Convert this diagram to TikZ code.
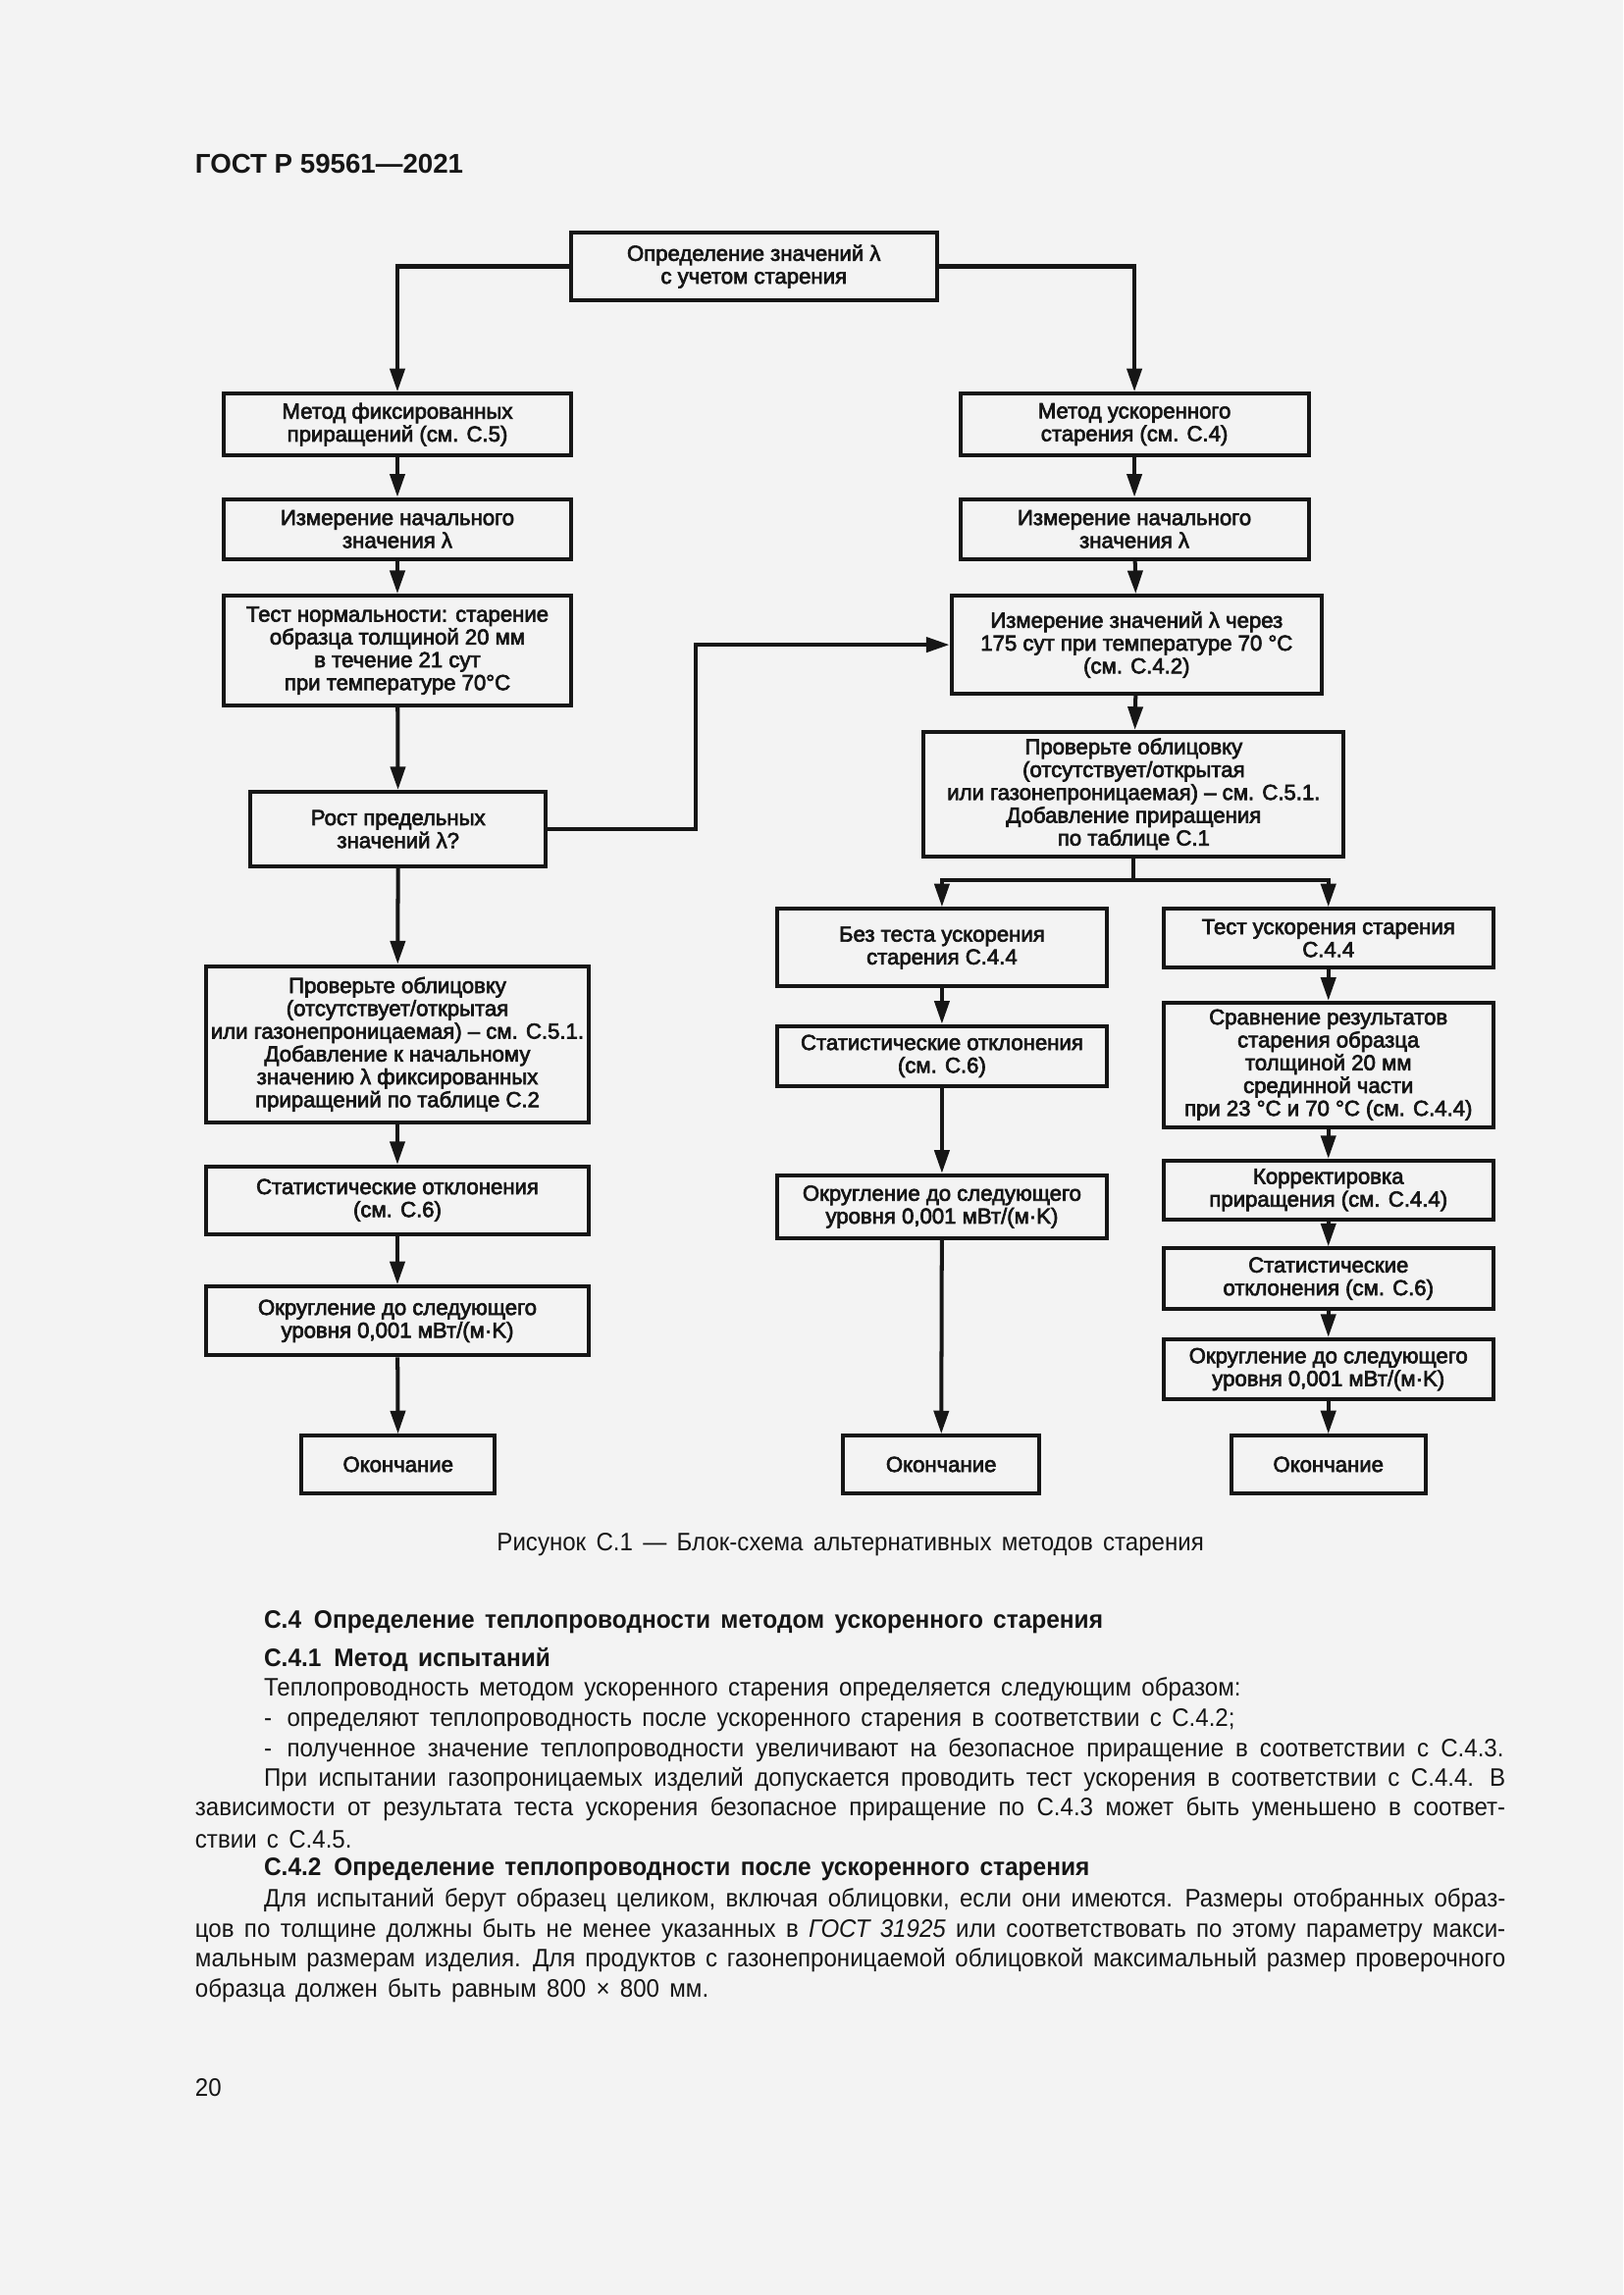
\documentclass[tikz,border=0pt]{standalone}
\usepackage{fontspec}
\setmainfont{Liberation Sans}
\newfontfamily\boxfont{Liberation Sans}[FakeBold=3]
\newfontfamily\bodyfont{Liberation Sans}[FakeStretch=0.935]
\newfontfamily\headfont{Liberation Sans}[FakeStretch=0.95]
\usetikzlibrary{arrows.meta}
\definecolor{paper}{RGB}{243,243,243}
\definecolor{ink}{RGB}{22,22,22}
\newcommand\fullline[2]{\makebox[#1][s]{#2}}
\newcommand\bodysize{\fontsize{9.3}{11}\selectfont\spaceskip=0.4em plus 0.2em minus 0.1em\relax}

\begin{document}
\begin{tikzpicture}[x=0.018936cm, y=-0.018936cm,
  blk/.style 2 args={draw=ink, text=ink, line width=1.45pt, align=center, inner sep=1pt,
    minimum width=#1*0.018936cm, minimum height=#2*0.018936cm,
    font=\boxfont\fontsize{8}{8.4}\selectfont},
  arr/.style={-{Triangle[length=3mm,width=1.9mm]}, line width=1.45pt, draw=ink},
  txt/.style={anchor=west, inner sep=0pt, text=ink, font={\bodyfont\bodysize}},
  head/.style={txt, font={\headfont\bfseries\bodysize}}]
\fill[paper] (0,0) rectangle (1109,1568);

\node (h) at (133,112) [txt, font=\bfseries\fontsize{10}{12}\selectfont] {ГОСТ Р 59561—2021};

\node (1) at (515,182) [blk={250}{46}] {Определение значений λ\\с учетом старения};

\node (2) at (271.5,290) [blk={237}{42}] {Метод фиксированных\\приращений (см. С.5)};
\node (3) at (271.5,361.5) [blk={237}{41}] {Измерение начального\\значения λ};
\node (4) at (271.5,444.5) [blk={237}{75}] {Тест нормальности: старение\\образца толщиной 20 мм\\в течение 21 сут\\при температуре 70°С};
\node (5) at (272,566.5) [blk={202}{51}] {Рост предельных\\значений λ?};
\node (6) at (271.5,713.5) [blk={261}{107}] {Проверьте облицовку\\(отсутствует/открытая\\или газонепроницаемая) – см. С.5.1.\\Добавление к начальному\\значению λ фиксированных\\приращений по таблице С.2};
\node (7) at (271.5,820) [blk={261}{46}] {Статистические отклонения\\(см. С.6)};
\node (8) at (271.5,902.5) [blk={261}{47}] {Округление до следующего\\уровня 0,001 мВт/(м·K)};
\node (9) at (272,1000.5) [blk={132}{39}] {Окончание};

\node (10) at (775,290) [blk={238}{42}] {Метод ускоренного\\старения (см. С.4)};
\node (11) at (775,361.5) [blk={238}{41}] {Измерение начального\\значения λ};
\node (12) at (776.5,440.5) [blk={253}{67}] {Измерение значений λ через\\175 сут при температуре 70 °С\\(см. С.4.2)};
\node (13) at (774.5,542.5) [blk={287}{85}] {Проверьте облицовку\\(отсутствует/открытая\\или газонепроницаемая) – см. С.5.1.\\Добавление приращения\\по таблице С.1};

\node (14) at (643.5,647.5) [blk={225}{53}] {Без теста ускорения\\старения С.4.4};
\node (15) at (643.5,721.5) [blk={225}{41}] {Статистические отклонения\\(см. С.6)};
\node (16) at (643.5,824.5) [blk={225}{43}] {Округление до следующего\\уровня 0,001 мВт/(м·K)};
\node (17) at (643,1000.5) [blk={134}{39}] {Окончание};

\node (18) at (907.5,641) [blk={225}{40}] {Тест ускорения старения\\С.4.4};
\node (19) at (907.5,727.5) [blk={225}{85}] {Сравнение результатов\\старения образца\\толщиной 20 мм\\срединной части\\при 23 °С и 70 °С (см. С.4.4)};
\node (20) at (907.5,813) [blk={225}{40}] {Корректировка\\приращения (см. С.4.4)};
\node (21) at (907.5,873.5) [blk={225}{41}] {Статистические\\отклонения (см. С.6)};
\node (22) at (907.5,935.5) [blk={225}{41}] {Округление до следующего\\уровня 0,001 мВт/(м·K)};
\node (23) at (907.5,1000.5) [blk={133}{39}] {Окончание};

\draw[arr] (1.west) -| (2);
\draw[arr] (1.east) -| (10);
\draw[arr] (2) -- (3);
\draw[arr] (3) -- (4);
\draw[arr] (4) -- (5);
\draw[arr] (5) -- (6);
\draw[arr] (6) -- (7);
\draw[arr] (7) -- (8);
\draw[arr] (8) -- (9);
\draw[arr] (5.east) -- ++(101,0) |- (12);
\draw[arr] (10) -- (11);
\draw[arr] (11) -- (12);
\draw[arr] (12) -- (13);
\draw[line width=1.45pt, draw=ink] (13.south) -- ++(0,15) coordinate (s);
\draw[arr] (s) -| (14);
\draw[arr] (s) -| (18);
\draw[arr] (14) -- (15);
\draw[arr] (15) -- (16);
\draw[arr] (16) -- (17);
\draw[arr] (18) -- (19);
\draw[arr] (19) -- (20);
\draw[arr] (20) -- (21);
\draw[arr] (21) -- (22);
\draw[arr] (22) -- (23);

\node (cap) at (581,1055) [txt, anchor=center] {Рисунок С.1 — Блок-схема альтернативных методов старения};

\node (t1) at (180,1108) [head] {С.4\hspace{0.5em}Определение теплопроводности методом ускоренного старения};
\node (t2) at (180,1134) [head] {С.4.1\hspace{0.5em}Метод испытаний};
\node (t3) at (180,1154) [txt] {Теплопроводность методом ускоренного старения определяется следующим образом:};
\node (t4) at (180,1175) [txt] {-\hspace{0.6em}определяют теплопроводность после ускоренного старения в соответствии с С.4.2;};
\node (t5) at (180,1196) [txt] {\fullline{16.04cm}{-\hspace{0.6em}полученное значение теплопроводности увеличивают на безопасное приращение в соответствии с С.4.3.}};
\node (t6) at (180,1216) [txt] {\fullline{16.06cm}{При испытании газопроницаемых изделий допускается проводить тест ускорения в соответствии с С.4.4. В}};
\node (t7) at (133,1236) [txt] {\fullline{16.95cm}{зависимости от результата теста ускорения безопасное приращение по С.4.3 может быть уменьшено в соответ-}};
\node (t8) at (133,1257) [txt] {ствии с С.4.5.};
\node (t9) at (180,1277) [head] {С.4.2\hspace{0.5em}Определение теплопроводности после ускоренного старения};
\node (t10) at (180,1298) [txt] {\fullline{16.06cm}{Для испытаний берут образец целиком, включая облицовки, если они имеются. Размеры отобранных образ-}};
\node (t11) at (133,1319) [txt] {\fullline{16.95cm}{цов по толщине должны быть не менее указанных в \textit{ГОСТ 31925} или соответствовать по этому параметру макси-}};
\node (t12) at (133,1339) [txt] {\fullline{16.95cm}{мальным размерам изделия. Для продуктов с газонепроницаемой облицовкой максимальный размер проверочного}};
\node (t13) at (133,1360) [txt] {образца должен быть равным 800 × 800 мм.};

\node (pg) at (133,1426) [txt] {20};
\end{tikzpicture}
\end{document}
